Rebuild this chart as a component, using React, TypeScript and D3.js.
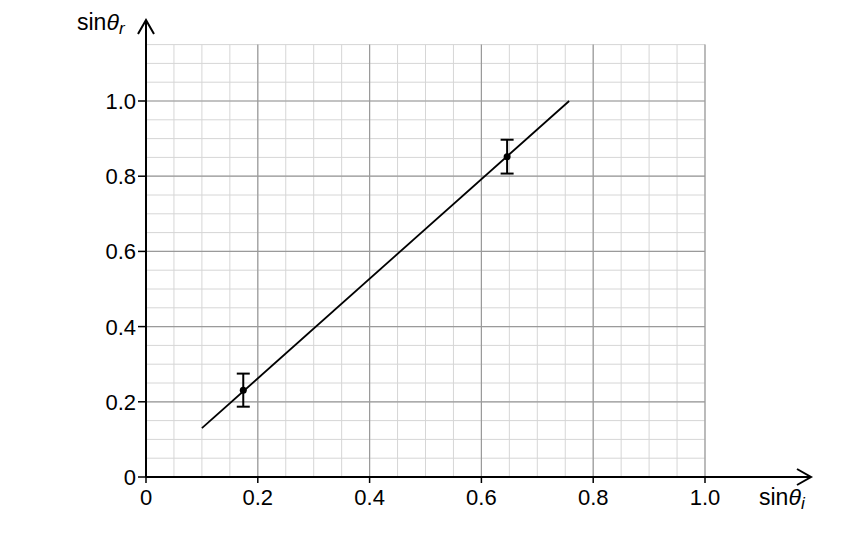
import * as React from 'react';
import * as d3 from 'd3';

const xTicks = [0, 0.2, 0.4, 0.6, 0.8, 1.0];
const yTicks = [0, 0.2, 0.4, 0.6, 0.8, 1.0];
const tickLabels = ['0', '0.2', '0.4', '0.6', '0.8', '1.0'];
const pointX = [0.174, 0.646];
const pointY = [0.231, 0.852];
const pointErr = [0.044, 0.045];
const fitX = [0.1, 0.757];
const fitY = [0.13, 1.0];

const W = 854;
const H = 538;
const FONT = '"Liberation Sans", Arial, sans-serif';

const App = () => {
	const ref = React.useRef<SVGSVGElement>(null);

	React.useEffect(() => {
		const svg = d3.select(ref.current);
		svg.html('');

		const x = d3.scaleLinear().domain([0, 1]).range([146, 705]);
		const y = d3.scaleLinear().domain([0, 1]).range([477, 101]);

		const minorX = d3.range(0, 1.0001, 0.05);
		const minorY = d3.range(0, 1.1501, 0.05);
		const g = svg.append('g');

		// minor grid
		g.selectAll('.vminor').data(minorX).enter().append('line')
			.attr('x1', d => x(d)).attr('x2', d => x(d))
			.attr('y1', y(0)).attr('y2', y(1.15))
			.attr('stroke', '#d6d6d6').attr('stroke-width', 1);
		g.selectAll('.hminor').data(minorY).enter().append('line')
			.attr('x1', x(0)).attr('x2', x(1))
			.attr('y1', d => y(d)).attr('y2', d => y(d))
			.attr('stroke', '#d6d6d6').attr('stroke-width', 1);

		// major grid
		g.selectAll('.vmajor').data(xTicks).enter().append('line')
			.attr('x1', d => x(d)).attr('x2', d => x(d))
			.attr('y1', y(0)).attr('y2', y(1.15))
			.attr('stroke', '#9a9a9a').attr('stroke-width', 1.2);
		g.selectAll('.hmajor').data(yTicks).enter().append('line')
			.attr('x1', x(0)).attr('x2', x(1))
			.attr('y1', d => y(d)).attr('y2', d => y(d))
			.attr('stroke', '#9a9a9a').attr('stroke-width', 1.2);

		// axes
		g.append('line').attr('x1', x(0)).attr('x2', 811)
			.attr('y1', y(0)).attr('y2', y(0))
			.attr('stroke', '#000').attr('stroke-width', 2);
		g.append('path').attr('d', `M${797},${y(0) - 8}L${811},${y(0)}L${797},${y(0) + 8}`)
			.attr('fill', 'none').attr('stroke', '#000').attr('stroke-width', 2);
		g.append('line').attr('x1', x(0)).attr('x2', x(0))
			.attr('y1', y(0)).attr('y2', 20)
			.attr('stroke', '#000').attr('stroke-width', 2);
		g.append('path').attr('d', `M${x(0) - 8},${34}L${x(0)},${20}L${x(0) + 8},${34}`)
			.attr('fill', 'none').attr('stroke', '#000').attr('stroke-width', 2);

		// ticks
		g.selectAll('.xt').data(xTicks).enter().append('line')
			.attr('x1', d => x(d)).attr('x2', d => x(d))
			.attr('y1', y(0)).attr('y2', y(0) + 6)
			.attr('stroke', '#000').attr('stroke-width', 1.5);
		g.selectAll('.yt').data(yTicks).enter().append('line')
			.attr('x1', x(0) - 8).attr('x2', x(0))
			.attr('y1', d => y(d)).attr('y2', d => y(d))
			.attr('stroke', '#000').attr('stroke-width', 1.5);

		g.selectAll('.xl').data(xTicks).enter().append('text')
			.attr('x', d => x(d)).attr('y', y(0) + 28)
			.attr('text-anchor', 'middle')
			.attr('font-family', FONT).attr('font-size', 22)
			.text((d, i) => tickLabels[i]);
		g.selectAll('.yl').data(yTicks).enter().append('text')
			.attr('x', x(0) - 10).attr('y', d => y(d) + 8)
			.attr('text-anchor', 'end')
			.attr('font-family', FONT).attr('font-size', 22)
			.text((d, i) => tickLabels[i]);

		// fit line
		const line = d3.line<number>().x((d, i) => x(fitX[i])).y((d, i) => y(fitY[i]));
		g.append('path').attr('d', line(fitX))
			.attr('fill', 'none').attr('stroke', '#000').attr('stroke-width', 1.8);

		// error bars
		const pts = pointX.map((px, i) => ({x: px, y: pointY[i], e: pointErr[i]}));
		const eb = g.selectAll('.eb').data(pts).enter().append('g');
		eb.append('line')
			.attr('x1', d => x(d.x)).attr('x2', d => x(d.x))
			.attr('y1', d => y(d.y - d.e)).attr('y2', d => y(d.y + d.e))
			.attr('stroke', '#000').attr('stroke-width', 2);
		eb.append('line')
			.attr('x1', d => x(d.x) - 6.5).attr('x2', d => x(d.x) + 6.5)
			.attr('y1', d => y(d.y + d.e)).attr('y2', d => y(d.y + d.e))
			.attr('stroke', '#000').attr('stroke-width', 2);
		eb.append('line')
			.attr('x1', d => x(d.x) - 6.5).attr('x2', d => x(d.x) + 6.5)
			.attr('y1', d => y(d.y - d.e)).attr('y2', d => y(d.y - d.e))
			.attr('stroke', '#000').attr('stroke-width', 2);
		eb.append('circle')
			.attr('cx', d => x(d.x)).attr('cy', d => y(d.y)).attr('r', 3.5)
			.attr('fill', '#000');

		// axis titles
		const ty = g.append('text').attr('x', 77).attr('y', 30)
			.attr('font-family', FONT).attr('font-size', 23);
		ty.append('tspan').text('sin');
		ty.append('tspan').attr('font-style', 'italic').text('θ');
		ty.append('tspan').attr('font-style', 'italic').attr('font-size', 17).attr('dy', 4).text('r');

		const tx = g.append('text').attr('x', 759).attr('y', 505)
			.attr('font-family', FONT).attr('font-size', 23);
		tx.append('tspan').text('sin');
		tx.append('tspan').attr('font-style', 'italic').text('θ');
		tx.append('tspan').attr('font-style', 'italic').attr('font-size', 17).attr('dy', 4).text('i');
	}, []);

	return (
		<svg ref={ref} width={W} height={H} style={{display: 'block', margin: -8, background: '#fff'}} />
	);
};

export default App;
